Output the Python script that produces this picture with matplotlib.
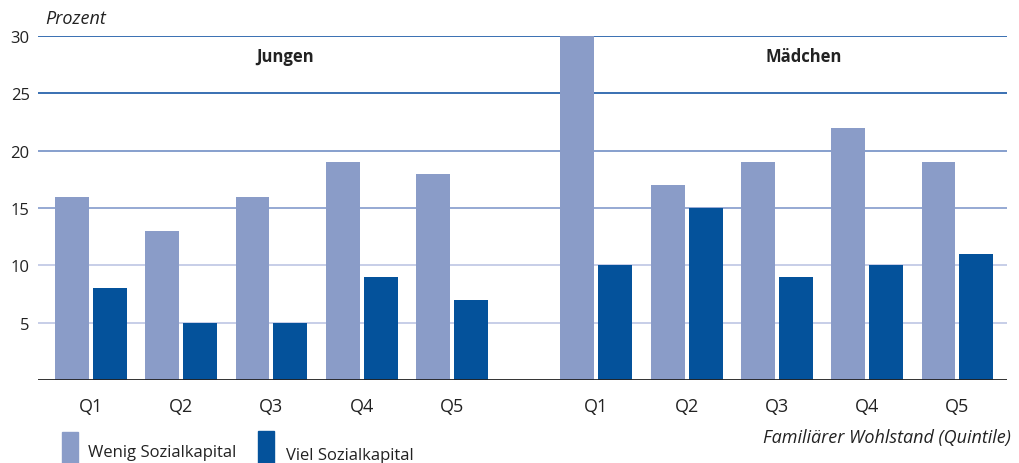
import matplotlib
matplotlib.use('Agg')
import matplotlib.pyplot as plt
from matplotlib.patches import Rectangle
import numpy as np

# Daten (Prozent)
quintile = ['Q1', 'Q2', 'Q3', 'Q4', 'Q5']
jungen_wenig = [16, 13, 16, 19, 18]
jungen_viel = [8, 5, 5, 9, 7]
maedchen_wenig = [30, 17, 19, 22, 19]
maedchen_viel = [10, 15, 9, 10, 11]

hell = '#8a9cc8'
dunkel = '#04529b'

plt.rcParams['font.family'] = ['Open Sans', 'DejaVu Sans']

fig = plt.figure(figsize=(10.19, 4.64), dpi=100)
ax = fig.add_axes([0.0373, 0.179, 0.951, 0.741])

x_j = np.arange(5)
x_m = np.arange(5) + 5.6
breite = 0.375
off = 0.21

# Gitterlinien
grid_farben = {5: '#c3cae6', 10: '#c3cae6', 15: '#8ea2d0', 20: '#7d97c9', 25: '#2a64ad', 30: '#2a64ad'}
for y, c in grid_farben.items():
    ax.axhline(y, color=c, lw=1.3, zorder=0)

ax.bar(x_j - off, jungen_wenig, breite, color=hell, zorder=2)
ax.bar(x_j + off, jungen_viel, breite, color=dunkel, zorder=2)
ax.bar(x_m - off, maedchen_wenig, breite, color=hell, zorder=2)
ax.bar(x_m + off, maedchen_viel, breite, color=dunkel, zorder=2)

ax.axhline(0, color='#222222', lw=1.3, zorder=3)

ax.set_xlim(-0.586, 10.15)
ax.set_ylim(0, 30)
ax.set_xticks(np.concatenate([x_j, x_m]))
ax.set_xticklabels(quintile + quintile, fontsize=13, color='#222222')
ax.set_yticks([5, 10, 15, 20, 25, 30])
ax.set_yticklabels(['5', '10', '15', '20', '25', '30'], fontsize=12, color='#222222')
ax.tick_params(axis='x', length=0, pad=12)
ax.tick_params(axis='y', length=0, pad=6)
for s in ax.spines.values():
    s.set_visible(False)

ax.text(2.15, 28.3, 'Jungen', ha='center', va='center', fontsize=12, fontweight='bold', color='#222222')
ax.text(7.9, 28.3, 'Mädchen', ha='center', va='center', fontsize=12, fontweight='bold', color='#222222')

fig.text(0.044, 0.96, 'Prozent', fontsize=13, style='italic', color='#222222', va='center')
fig.text(0.992, 0.055, 'Familiärer Wohlstand (Quintile)', fontsize=13, style='italic',
         color='#222222', ha='right', va='center')

# Legende
fig.patches.append(Rectangle((62 / 1019, 0), 16 / 1019, 31 / 464, transform=fig.transFigure, color=hell))
fig.text(88 / 1019, 1 - 453 / 464, 'Wenig Sozialkapital', fontsize=12, color='#222222', va='center')
fig.patches.append(Rectangle((258 / 1019, 0), 16 / 1019, 32 / 464, transform=fig.transFigure, color=dunkel))
fig.text(286 / 1019, 1 - 456 / 464, 'Viel Sozialkapital', fontsize=12, color='#222222', va='center')

fig.savefig('out.png', dpi=100)
